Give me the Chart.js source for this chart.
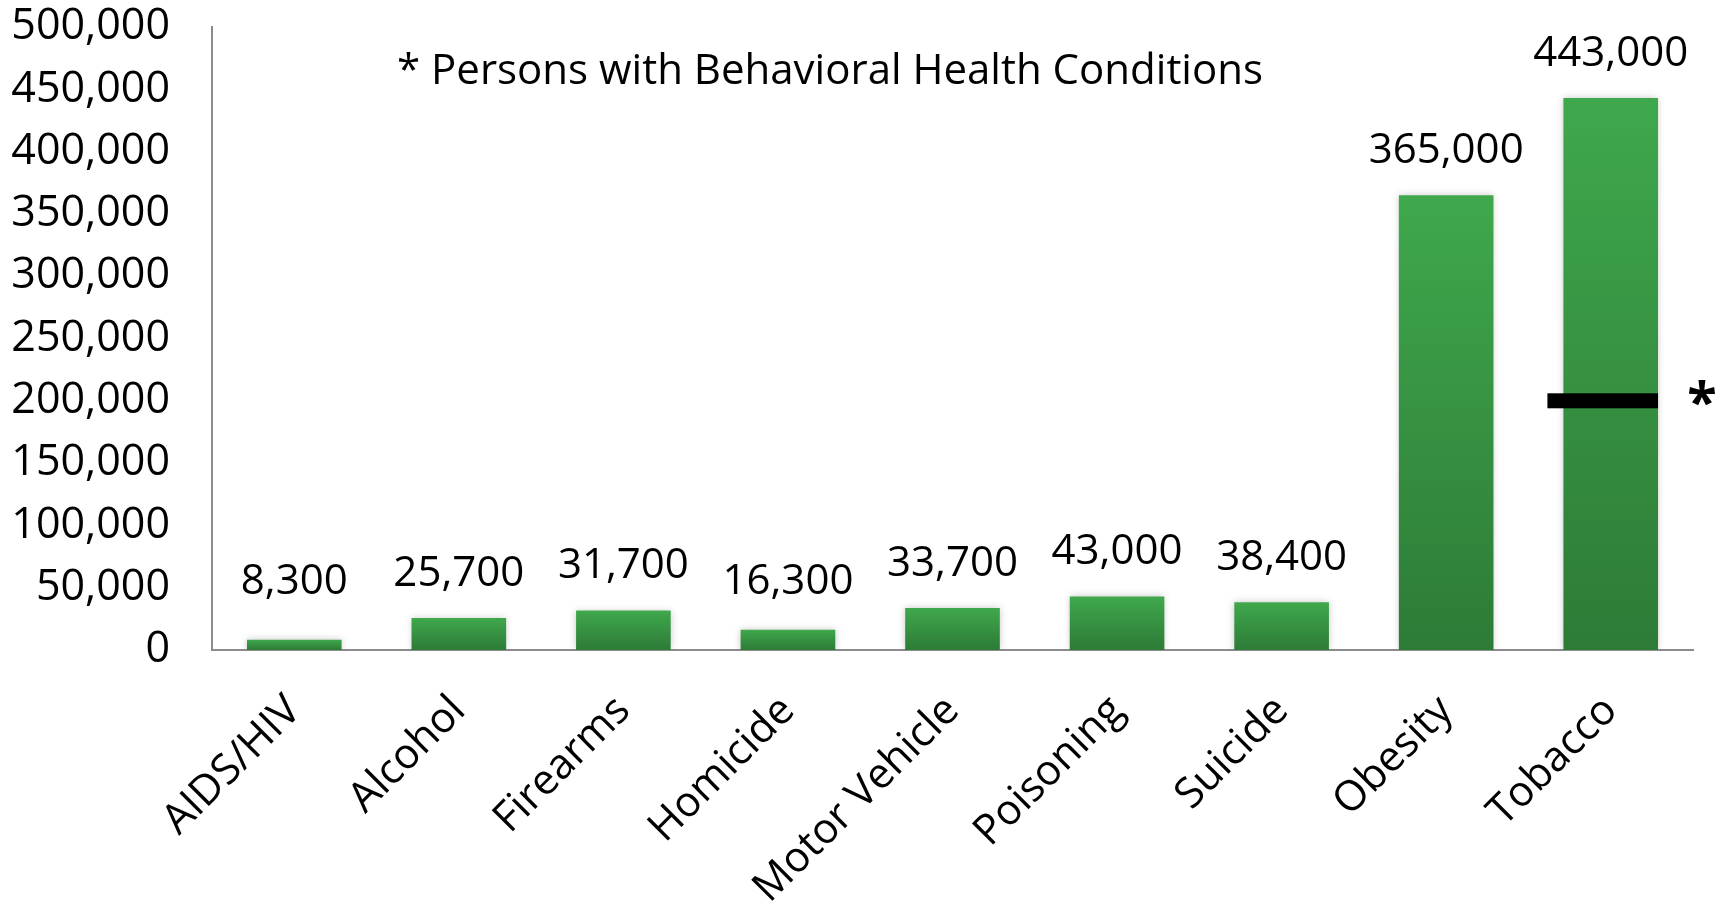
<!DOCTYPE html>
<html>
<head>
<meta charset="utf-8">
<script src="https://cdn.jsdelivr.net/npm/chart.js@4"></script>
<style>
  html, body { margin: 0; padding: 0; background: #fff; }
  #box { width: 1721px; height: 909px; }
</style>
</head>
<body>
<div id="box"><canvas id="deaths-chart"></canvas></div>
<script>
// data
const categories = ['AIDS/HIV', 'Alcohol', 'Firearms', 'Homicide', 'Motor Vehicle', 'Poisoning', 'Suicide', 'Obesity', 'Tobacco']
const deaths = [8300, 25700, 31700, 16300, 33700, 43000, 38400, 365000, 443000]
// share of deaths among persons with behavioral health conditions
const behavioralDeaths = [null, null, null, null, null, null, null, null, 200000]
const yTicks = [0, 50000, 100000, 150000, 200000, 250000, 300000, 350000, 400000, 450000, 500000]
const noteText = '* Persons with Behavioral Health Conditions'

const FONT = '"Open Sans", "Noto Sans", sans-serif'
const fmt = v => v.toLocaleString('en-US')

// per-bar vertical gradient, light top -> dark bottom
function barGradient(c) {
    const chart = c.chart
    if (!chart.chartArea || c.raw == null) return '#38994a'
    const y = chart.scales.y
    const top = y.getPixelForValue(c.raw)
    const bottom = y.getPixelForValue(0)
    const g = chart.ctx.createLinearGradient(0, top, 0, bottom)
    g.addColorStop(0, '#3fa84c')
    g.addColorStop(1, '#2d7b37')
    return g
}

// bar glow + value labels + marker + note
const extras = {
    id: 'extras',
    beforeDatasetsDraw(chart) {
        const { ctx } = chart
        ctx.save()
        ctx.shadowColor = 'rgba(0,0,0,0.22)'
        ctx.shadowBlur = 7
    },
    afterDatasetsDraw(chart) {
        const { ctx, chartArea, scales: { y } } = chart
        ctx.restore()
        const meta = chart.getDatasetMeta(0)
        const floor = y.getPixelForValue(0) - 68

        ctx.save()
        ctx.font = '42px ' + FONT
        ctx.fillStyle = '#000'
        ctx.textAlign = 'center'
        ctx.textBaseline = 'middle'
        meta.data.forEach((bar, i) => {
            const ly = Math.min(bar.y - 44, floor)
            ctx.fillText(fmt(deaths[i]), bar.x, ly)
        })

        // behavioral health marker
        meta.data.forEach((bar, i) => {
            const v = behavioralDeaths[i]
            if (v == null) return
            const my = y.getPixelForValue(v)
            const half = bar.width / 2
            ctx.fillStyle = '#000'
            ctx.fillRect(bar.x - half - 16, my - 7.5, bar.width + 16, 15)
            ctx.font = 'bold 54px ' + FONT
            ctx.textAlign = 'center'
            ctx.textBaseline = 'alphabetic'
            ctx.fillText('*', chartArea.right + 9, my + 20)
        })

        ctx.font = '42px ' + FONT
        ctx.textAlign = 'left'
        ctx.textBaseline = 'middle'
        ctx.fillText(noteText, chartArea.left + 185, chartArea.top + 45)
        ctx.restore()
    }
}

const data = {
    labels: categories,
    datasets: [{
        data: deaths,
        backgroundColor: barGradient,
        borderWidth: 0,
        categoryPercentage: 1,
        barPercentage: 0.575
    }]
}

const config = {
    type: 'bar',
    data: data,
    options: {
        responsive: true,
        maintainAspectRatio: false,
        animation: false,
        layout: { padding: { top: 27, right: 28, bottom: 0, left: 0 } },
        plugins: {
            legend: { display: false },
            tooltip: { enabled: false }
        },
        scales: {
            x: {
                grid: { display: false },
                border: { display: true, color: '#8c8c8c', width: 2 },
                ticks: {
                    color: '#000',
                    font: { family: FONT, size: 42 },
                    minRotation: 45,
                    maxRotation: 45,
                    padding: 28
                },
                afterFit(scale) {
                    scale.height = 259
                    scale.paddingLeft = scale.paddingRight = 0
                }
            },
            y: {
                min: 0,
                max: 500000,
                afterBuildTicks(scale) { scale.ticks = yTicks.map(v => ({ value: v })) },
                grid: { display: false },
                border: { display: true, color: '#8c8c8c', width: 2 },
                ticks: {
                    color: '#000',
                    font: { family: FONT, size: 43 },
                    padding: 34,
                    callback: v => fmt(v)
                },
                afterFit(scale) {
                    scale.width = 212
                    scale.paddingTop = scale.paddingBottom = 0
                }
            }
        }
    },
    plugins: [extras]
}

const deathsChart = new Chart(document.getElementById('deaths-chart'), config)
</script>
</body>
</html>
